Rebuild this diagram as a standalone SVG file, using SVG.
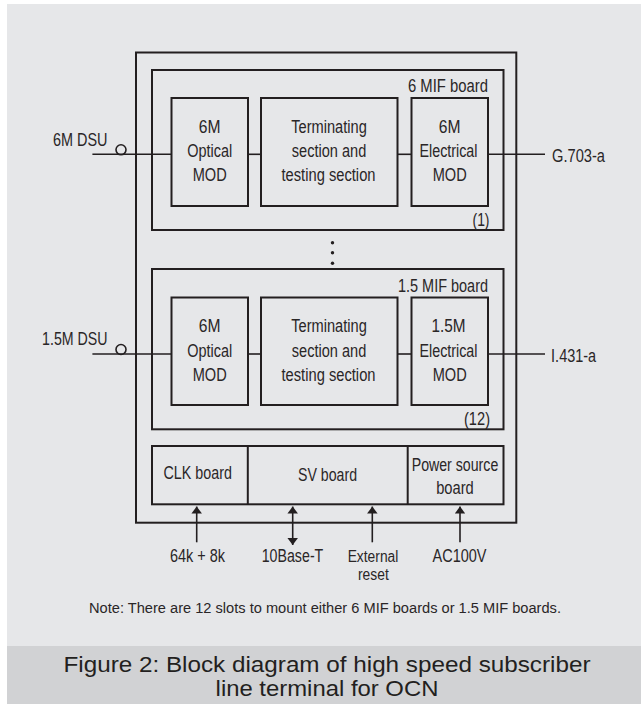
<svg xmlns="http://www.w3.org/2000/svg" width="641" height="704" viewBox="0 0 641 704">
<defs>
<style>
.bg{fill:#e6e7e9}
.cap{fill:#d1d2d4}
.box{fill:none;stroke:#231f20;stroke-width:2}
.ln{fill:none;stroke:#231f20;stroke-width:1.6}
.t{font-family:"Liberation Sans",Arial,sans-serif;font-size:17.5px;fill:#2a2627}
.s{font-size:16px}
.m{text-anchor:middle}
.e{text-anchor:end}
.note{font-family:"Liberation Sans",Arial,sans-serif;font-size:15.5px;fill:#2a2627;text-anchor:middle}
.fig{font-family:"Liberation Sans",Arial,sans-serif;font-size:22px;fill:#231f20;text-anchor:middle}
</style>
<marker id="ah" viewBox="0 0 10 10" refX="10" refY="5" markerWidth="7" markerHeight="10.5" markerUnits="userSpaceOnUse" orient="auto-start-reverse" preserveAspectRatio="none">
<path d="M0,0 L10,5 L0,10 Z" fill="#231f20"/>
</marker>
</defs>
<rect x="0" y="0" width="641" height="704" fill="#ffffff"/>
<rect class="bg" x="7" y="4" width="634" height="642"/>
<rect class="cap" x="7" y="646" width="634" height="58"/>

<g id="chassis"><rect class="box" x="136" y="52.5" width="380.3" height="470.2"/></g>

<g id="board1">
<rect class="box" x="152" y="70" width="351.5" height="160"/>
<text class="t e" x="488" y="91.5" textLength="80" lengthAdjust="spacingAndGlyphs">6 MIF board</text>
<text class="t e" x="489.5" y="226" textLength="17" lengthAdjust="spacingAndGlyphs">(1)</text>
</g>
<g id="opt1"><rect class="box" x="171.5" y="98" width="76.5" height="108"/>
<text class="t m" x="209.7" y="132.5" textLength="21.7" lengthAdjust="spacingAndGlyphs">6M</text><text class="t m" x="209.7" y="157" textLength="45" lengthAdjust="spacingAndGlyphs">Optical</text><text class="t m" x="209.7" y="181" textLength="34" lengthAdjust="spacingAndGlyphs">MOD</text></g>
<g id="term1"><rect class="box" x="261" y="98" width="136.5" height="108"/>
<text class="t m" x="329" y="132.5" textLength="75.6" lengthAdjust="spacingAndGlyphs">Terminating</text><text class="t m" x="329" y="157" textLength="74.5" lengthAdjust="spacingAndGlyphs">section and</text><text class="t m" x="328.5" y="181" textLength="94" lengthAdjust="spacingAndGlyphs">testing section</text></g>
<g id="elec1"><rect class="box" x="411.5" y="98" width="76.5" height="108"/>
<text class="t m" x="449.7" y="132.5" textLength="21.7" lengthAdjust="spacingAndGlyphs">6M</text><text class="t m" x="448.5" y="157" textLength="58" lengthAdjust="spacingAndGlyphs">Electrical</text><text class="t m" x="449.7" y="181" textLength="34" lengthAdjust="spacingAndGlyphs">MOD</text></g>

<g id="dots"><circle cx="332.5" cy="242.7" r="1.7" fill="#231f20"/><circle cx="332.5" cy="252.7" r="1.7" fill="#231f20"/><circle cx="332.5" cy="263.2" r="1.7" fill="#231f20"/></g>

<g id="board2">
<rect class="box" x="152" y="269" width="351.5" height="160.3"/>
<text class="t e" x="488" y="291.5" textLength="90" lengthAdjust="spacingAndGlyphs">1.5 MIF board</text>
<text class="t e" x="490" y="425" textLength="26" lengthAdjust="spacingAndGlyphs">(12)</text>
</g>
<g id="opt2"><rect class="box" x="171.5" y="297.5" width="76.5" height="107.5"/>
<text class="t m" x="209.7" y="332" textLength="21.7" lengthAdjust="spacingAndGlyphs">6M</text><text class="t m" x="209.7" y="356.5" textLength="45" lengthAdjust="spacingAndGlyphs">Optical</text><text class="t m" x="209.7" y="380.5" textLength="34" lengthAdjust="spacingAndGlyphs">MOD</text></g>
<g id="term2"><rect class="box" x="261" y="297.5" width="136.5" height="107.5"/>
<text class="t m" x="329" y="332" textLength="75.6" lengthAdjust="spacingAndGlyphs">Terminating</text><text class="t m" x="329" y="356.5" textLength="74.5" lengthAdjust="spacingAndGlyphs">section and</text><text class="t m" x="328.5" y="380.5" textLength="94" lengthAdjust="spacingAndGlyphs">testing section</text></g>
<g id="elec2"><rect class="box" x="411.5" y="297.5" width="76.5" height="107.5"/>
<text class="t m" x="448.5" y="332" textLength="34" lengthAdjust="spacingAndGlyphs">1.5M</text><text class="t m" x="448.5" y="356.5" textLength="58" lengthAdjust="spacingAndGlyphs">Electrical</text><text class="t m" x="449.7" y="380.5" textLength="34" lengthAdjust="spacingAndGlyphs">MOD</text></g>

<g id="common">
<rect class="box" x="152" y="446" width="351.5" height="58.3"/>
<line class="box" x1="247.8" y1="446" x2="247.8" y2="504.3"/>
<line class="box" x1="407.7" y1="446" x2="407.7" y2="504.3"/>
</g>
<g id="clk"><text class="t m" x="197.7" y="479.3" textLength="68.3" lengthAdjust="spacingAndGlyphs">CLK board</text></g>
<g id="sv"><text class="t m" x="327.5" y="480.7" textLength="59" lengthAdjust="spacingAndGlyphs">SV board</text></g>
<g id="power"><text class="t m" x="455" y="471.2" textLength="86.6" lengthAdjust="spacingAndGlyphs">Power source</text><text class="t m" x="455" y="494" textLength="37.6" lengthAdjust="spacingAndGlyphs">board</text></g>

<g id="connectors">
<line class="ln" x1="92.4" y1="154.3" x2="171.5" y2="154.3"/>
<circle cx="121" cy="149.8" r="5" fill="none" stroke="#231f20" stroke-width="1.6"/>
<line class="ln" x1="248" y1="154.3" x2="261" y2="154.3"/>
<line class="ln" x1="397.5" y1="154.3" x2="411.5" y2="154.3"/>
<line class="ln" x1="488" y1="154.3" x2="545" y2="154.3"/>

<line class="ln" x1="92.4" y1="354" x2="171.5" y2="354"/>
<circle cx="121" cy="349.5" r="5" fill="none" stroke="#231f20" stroke-width="1.6"/>
<line class="ln" x1="248" y1="354" x2="261" y2="354"/>
<line class="ln" x1="397.5" y1="354" x2="411.5" y2="354"/>
<line class="ln" x1="488" y1="354" x2="545" y2="354"/>

<line class="ln" x1="196.7" y1="542.3" x2="196.7" y2="506.5" marker-end="url(#ah)"/>
<line class="ln" x1="292.7" y1="545" x2="292.7" y2="506.5" marker-start="url(#ah)" marker-end="url(#ah)"/>
<line class="ln" x1="372.3" y1="542.3" x2="372.3" y2="506.5" marker-end="url(#ah)"/>
<line class="ln" x1="460" y1="542.3" x2="460" y2="506.5" marker-end="url(#ah)"/>
</g>

<g id="labels">
<text class="t" x="53" y="146" textLength="54.5" lengthAdjust="spacingAndGlyphs">6M DSU</text>
<text class="t" x="552" y="161.7" textLength="53" lengthAdjust="spacingAndGlyphs">G.703-a</text>
<text class="t" x="42.1" y="345" textLength="65.4" lengthAdjust="spacingAndGlyphs">1.5M DSU</text>
<text class="t" x="551.1" y="361.7" textLength="45" lengthAdjust="spacingAndGlyphs">I.431-a</text>
<text class="t m" x="197.5" y="561.7" textLength="55" lengthAdjust="spacingAndGlyphs">64k + 8k</text>
<text class="t m" x="292.5" y="561.7" textLength="61.6" lengthAdjust="spacingAndGlyphs">10Base-T</text>
<text class="t s m" x="373" y="561.7" textLength="50.7" lengthAdjust="spacingAndGlyphs">External</text>
<text class="t s m" x="373.4" y="579.5" textLength="30.8" lengthAdjust="spacingAndGlyphs">reset</text>
<text class="t m" x="459.5" y="561.7" textLength="54" lengthAdjust="spacingAndGlyphs">AC100V</text>
<text class="note" x="325" y="613.3" textLength="472" lengthAdjust="spacingAndGlyphs">Note: There are 12 slots to mount either 6 MIF boards or 1.5 MIF boards.</text>
</g>
<g id="caption">
<text class="fig" x="327" y="672" textLength="527" lengthAdjust="spacingAndGlyphs">Figure 2: Block diagram of high speed subscriber</text>
<text class="fig" x="327" y="695.5" textLength="222.8" lengthAdjust="spacingAndGlyphs">line terminal for OCN</text>
</g>
</svg>
